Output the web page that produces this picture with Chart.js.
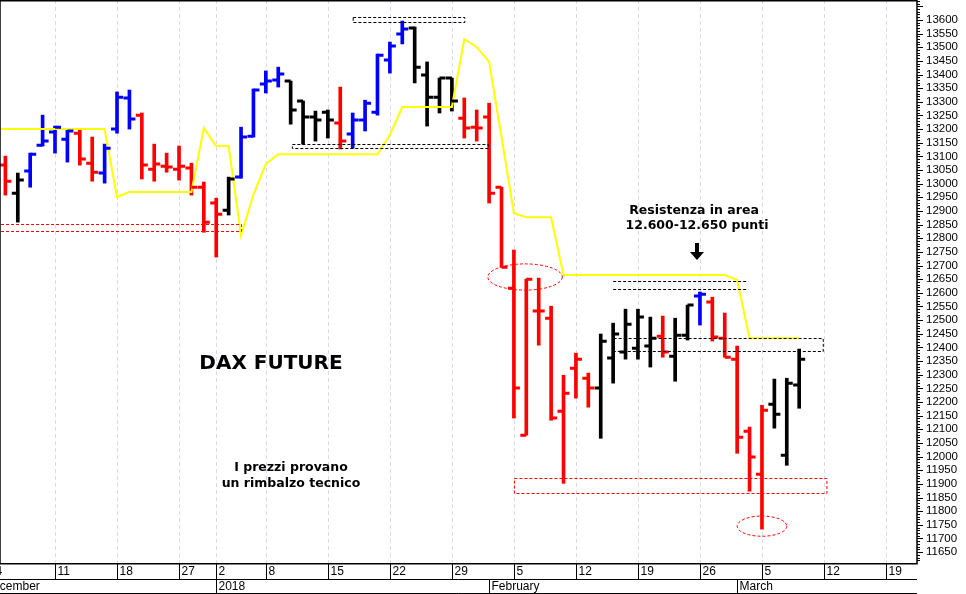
<!DOCTYPE html>
<html><head><meta charset="utf-8">
<script src="https://cdn.jsdelivr.net/npm/chart.js@4.4.1/dist/chart.umd.min.js"></script>
<style>html,body{margin:0;padding:0;background:#fff}#w{width:966px;height:594px}</style>
</head><body><div id="w"><canvas id="c"></canvas></div>
<script>
// day index: 0 = 4 Dec 2017 (trading days)
const opens  = [13068,12965,13046,13141,13189,13163,13185,13075,13039,13200,13314,13251,13053,13064,13053,13057,12987,12929,12903,13024,13174,13365,13380,13376,13303,13244,13262,13222,13182,13233,13262,13453,13548,13570,13398,13317,13387,13240,13207,13244,12987,12617,12078,12533,12507,12166,12324,12287,12251,12361,12383,12397,12405,12441,12368,12445,12588,12566,12434,12357,12093,11935,12192,12005,12262];
const highs  = [13101,13039,13112,13251,13211,13196,13196,13171,13145,13336,13343,13259,13145,13112,13138,13075,13006,12947,13024,13207,13347,13413,13427,13376,13303,13266,13270,13354,13259,13306,13475,13519,13596,13574,13446,13387,13387,13314,13270,13295,12987,12757,12650,12654,12551,12298,12379,12306,12449,12489,12540,12540,12511,12515,12507,12555,12603,12584,12526,12405,12108,12188,12284,12287,12394];
const lows   = [12958,12859,12987,13138,13112,13079,13068,13009,13002,13185,13200,13017,13009,13042,13013,12958,12822,12731,12885,13020,13171,13332,13354,13218,13145,13156,13167,13127,13130,13193,13251,13405,13512,13369,13211,13259,13266,13167,13156,12929,12694,12141,12078,12408,12133,11902,12214,12181,12067,12269,12357,12357,12328,12364,12276,12427,12482,12423,12364,12012,11873,11734,12104,11968,12177];
const closes = [13009,13013,13108,13156,13207,13193,13090,13042,13130,13317,13237,13068,13072,13061,13064,12987,12859,12888,13017,13171,13343,13376,13402,13270,13244,13233,13233,13156,13233,13295,13471,13504,13567,13427,13317,13387,13303,13204,13204,12965,12694,12251,12650,12533,12141,12232,12357,12251,12423,12449,12485,12511,12434,12383,12445,12555,12595,12438,12364,12071,11998,12170,12155,12269,12357];
// R=red, B=blue, K=black
const colorCodes = "RKBBBBRRBBBRRRRRRRKBBBBKKKKRBBBBBKKKKRRRRRRRRRRRKKKKKRKKBRRRRRKKK";
const stopLine = [13200,13200,13200,13200,13200,13200,13200,13200,13200,13200,12951,12969,12969,12969,12969,12969,12969,13204,13138,13138,12810,12960,13072,13108,13108,13108,13108,13108,13108,13108,13108,13108,13178,13281,13281,13281,13281,13281,13530,13501,13446,13171,12892,12877,12877,12877,12665,12665,12665,12665,12665,12665,12665,12665,12665,12665,12665,12665,12665,12665,12647,12434,12434,12434,12434,12434];
const dayTicks = [[0,"4"],[5,"11"],[10,"18"],[15,"27"],[18,"2"],[22,"8"],[27,"15"],[32,"22"],[37,"29"],[42,"5"],[47,"12"],[52,"19"],[57,"26"],[62,"5"],[67,"12"],[72,"19"]];
const monthTicks = [[-0.9,"December"],[18,"2018"],[40,"February"],[60,"March"]];
const blackBoxes = [[29,38,13611,13592],[24.1,39.9,13145,13130],[50,66.9,12434,12386]];
const blackLines = [[50,60.9,12643],[50,60.9,12614]];
const redBoxes = [[-1,20,12852,12826],[42,67.2,11921,11866]];
const redEllipses = [[42.9,12658,3,48],[62,11745,2,37]];

const cols={R:'#ff0000',B:'#0000ff',K:'#000000'};
const N=opens.length;
const barData=[], barCols=[];
for(let i=0;i<N;i++){barData.push({x:i+1,y:[lows[i],highs[i]]});barCols.push(cols[colorCodes[i]]);}
const lineData=stopLine.map((v,i)=>({x:i,y:v}));

const overlay={id:'ov',
 afterDatasetsDraw(ch){
  const c=ch.ctx,x=ch.scales.x,y=ch.scales.y,a=ch.chartArea;
  c.save();
  c.beginPath();c.rect(a.left,a.top,a.right-a.left,a.bottom-a.top);c.clip();
  c.lineWidth=3;
  for(let i=0;i<N;i++){
    const px=x.getPixelForValue(i+1);c.strokeStyle=barCols[i];
    c.beginPath();c.moveTo(px-6,y.getPixelForValue(opens[i]));c.lineTo(px,y.getPixelForValue(opens[i]));
    c.moveTo(px,y.getPixelForValue(closes[i]));c.lineTo(px+6,y.getPixelForValue(closes[i]));c.stroke();
  }
  c.lineWidth=1;c.setLineDash([3,2]);
  c.strokeStyle='#000';
  blackBoxes.forEach(b=>{const x0=x.getPixelForValue(b[0]),x1=x.getPixelForValue(b[1]),y0=y.getPixelForValue(b[2]),y1=y.getPixelForValue(b[3]);c.strokeRect(x0+.5,Math.round(y0)+.5,x1-x0,Math.round(y1-y0));});
  blackLines.forEach(b=>{const yy=Math.round(y.getPixelForValue(b[2]))+.5;c.beginPath();c.moveTo(x.getPixelForValue(b[0]),yy);c.lineTo(x.getPixelForValue(b[1]),yy);c.stroke();});
  c.strokeStyle='#ff0000';
  redBoxes.forEach(b=>{const x0=x.getPixelForValue(b[0]),x1=x.getPixelForValue(b[1]),y0=y.getPixelForValue(b[2]),y1=y.getPixelForValue(b[3]);c.strokeRect(x0+.5,Math.round(y0)+.5,x1-x0,Math.round(y1-y0));});
  redEllipses.forEach(e=>{const cx=x.getPixelForValue(e[0]),cy=y.getPixelForValue(e[1]);const rx=x.getPixelForValue(e[0]+e[2])-cx,ry=cy-y.getPixelForValue(e[1]+e[3]);c.beginPath();c.ellipse(cx,cy,rx,ry,0,0,Math.PI*2);c.stroke();});
  c.setLineDash([]);
  c.fillStyle='#000';c.textAlign='center';c.textBaseline='middle';
  c.font='bold 20px "DejaVu Sans", Verdana, sans-serif';c.fillText('DAX FUTURE',271,364);
  c.font='bold 12.5px "DejaVu Sans", Verdana, sans-serif';
  c.fillText('I prezzi provano',291,468);c.fillText('un rimbalzo tecnico',291,484);
  c.fillText('Resistenza in area',694,211);c.fillText('12.600-12.650 punti',697,226);
  c.fillRect(695,243,4,10);
  c.beginPath();c.moveTo(690,252);c.lineTo(704,252);c.lineTo(697,260);c.closePath();c.fill();
  c.restore();
  c.save();c.strokeStyle='#000';c.lineWidth=1.5;
  c.strokeRect(0,0.75,a.right,a.bottom);
  c.lineWidth=1;
  c.beginPath();c.moveTo(0,579.5);c.lineTo(a.right,579.5);c.moveTo(0,593.5);c.lineTo(a.right,593.5);c.stroke();
  c.font='12px "Liberation Sans", Arial, sans-serif';c.textAlign='left';c.textBaseline='middle';c.fillStyle='#000';
  dayTicks.forEach(t=>{const px=Math.round(x.getPixelForValue(t[0]))+.5;if(px>0){c.beginPath();c.moveTo(px,a.bottom);c.lineTo(px,579);c.stroke();}c.fillText(t[1],px+2,572);});
  monthTicks.forEach(t=>{const px=Math.round(x.getPixelForValue(t[0]))+.5;if(px>0){c.beginPath();c.moveTo(px,579);c.lineTo(px,594);c.stroke();}c.fillText(t[1],px+2,587);});
  c.beginPath();
  for(let v=11620;v<=13670;v+=10){const py=Math.round(y.getPixelForValue(v))+.5;c.moveTo(a.right,py);c.lineTo(a.right+(v%50===0?6:3),py);}
  c.stroke();
  c.font='11.5px "Liberation Sans", Arial, sans-serif';
  for(let v=11650;v<=13600;v+=50){c.fillText(String(v),a.right+9,y.getPixelForValue(v));}
  c.restore();
 },
 beforeDatasetsDraw(ch){
  const c=ch.ctx,x=ch.scales.x,a=ch.chartArea;
  c.save();c.strokeStyle='#d8d8f0';c.setLineDash([4,3]);c.lineWidth=1;
  dayTicks.forEach(t=>{const px=Math.round(x.getPixelForValue(t[0]))+.5;if(px>0&&px<a.right){c.beginPath();c.moveTo(px,a.top);c.lineTo(px,a.bottom);c.stroke();}});
  c.restore();
 }
};

new Chart(document.getElementById('c'),{
 data:{datasets:[
  {type:'bar',data:barData,backgroundColor:barCols,barThickness:3,order:2},
  {type:'line',data:lineData,borderColor:'#ffff00',borderWidth:2,pointRadius:0,tension:0,order:1}
 ]},
 options:{responsive:true,maintainAspectRatio:false,animation:false,
  layout:{padding:{left:0,right:0,top:0,bottom:0}},
  plugins:{legend:{display:false},tooltip:{enabled:false}},
  scales:{
   x:{type:'linear',offset:false,min:0.565,max:74.5,grid:{display:false,offset:false},border:{display:false},ticks:{display:false},afterFit(s){s.height=31;}},
   y:{position:'right',min:11610,max:13673,grid:{display:false},border:{display:false},ticks:{display:false},afterFit(s){s.width=49;}}
  }},
 plugins:[overlay]
});
</script></body></html>
